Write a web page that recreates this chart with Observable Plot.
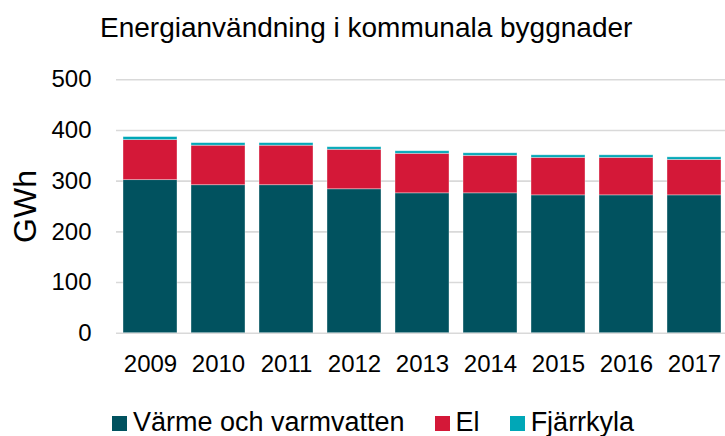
<!DOCTYPE html>
<html><head><meta charset="utf-8">
<script src="https://cdn.jsdelivr.net/npm/d3@7"></script>
<script src="https://cdn.jsdelivr.net/npm/@observablehq/plot@0.6"></script>
<style>
body{margin:0;background:#fff;font-family:"Liberation Sans",Arial,sans-serif;color:#000;}
#wrap{position:relative;width:725px;height:436px;overflow:hidden;background:#fff;}
#title{height:50px;position:relative;}
#title span{position:absolute;left:100px;top:14px;font-size:28px;line-height:1;white-space:nowrap;}
#legend{height:41px;position:relative;}
#legend .row{position:absolute;left:112px;top:13.8px;display:flex;align-items:flex-start;font-size:27px;line-height:1;white-space:nowrap;}
#legend .item{display:flex;align-items:flex-start;margin-right:30px;}
#legend .sw{width:15px;height:15px;margin-top:7.5px;margin-right:6px;}
</style></head><body>
<div id="wrap">
<div id="title"><span>Energianvändning i kommunala byggnader</span></div>
<div id="chart"></div>
<div id="legend"></div>
</div>
<script>
const years = ["2009","2010","2011","2012","2013","2014","2015","2016","2017"];
const varme = [302, 292, 292, 284, 276, 276, 272, 272, 272];
const el = [79, 78, 78, 78, 78, 74, 74, 74, 70];
const fjarrkyla = [6, 5, 5, 5, 5, 5, 5, 5, 5];
const seriesNames = ["Värme och varmvatten", "El", "Fjärrkyla"];
const colors = ["#01525F", "#D41838", "#00A7B7"];
const yTicks = [0, 100, 200, 300, 400, 500];
const yLabel = "GWh";

const seriesValues = [varme, el, fjarrkyla];
const data = years.flatMap((yr, i) => seriesNames.map((s, k) => ({year: yr, serie: s, value: seriesValues[k][i]})));

const plot = Plot.plot({
  width: 725, height: 345,
  marginTop: 29.3, marginBottom: 62.3, marginLeft: 116, marginRight: 0,
  style: {fontFamily: "Liberation Sans, Arial, sans-serif", fontSize: "24px", color: "#000", background: "transparent", overflow: "visible"},
  x: {domain: years, range: [116, 728], paddingInner: 0.206, paddingOuter: 0.103, label: null},
  y: {domain: [0, 500], label: null},
  color: {domain: seriesNames, range: colors},
  marks: [
    Plot.ruleY(yTicks, {stroke: "#D9D9D9", strokeWidth: 1.6}),
    Plot.barY(data, Plot.stackY({x: "year", y: "value", fill: "serie", stroke: "white", strokeOpacity: 0.45, strokeWidth: 0.8})),
    Plot.axisX({tickSize: 0, tickPadding: 22, fontSize: 24, label: null}),
    Plot.axisY({ticks: yTicks, tickSize: 0, tickPadding: 25, fontSize: 24, label: null}),
    Plot.text([yLabel], {text: d => d, frameAnchor: "left", dx: -91, rotate: -90, fontSize: 32, textAnchor: "middle", lineAnchor: "middle", fill: "#000"})
  ]
});
document.getElementById("chart").appendChild(plot);

const row = document.createElement("div");
row.className = "row";
seriesNames.forEach((s, k) => {
  const it = document.createElement("div");
  it.className = "item";
  const sw = document.createElement("div");
  sw.className = "sw";
  sw.style.background = colors[k];
  const tx = document.createElement("span");
  tx.textContent = s;
  it.appendChild(sw); it.appendChild(tx);
  row.appendChild(it);
});
document.getElementById("legend").appendChild(row);
</script>
</body></html>
